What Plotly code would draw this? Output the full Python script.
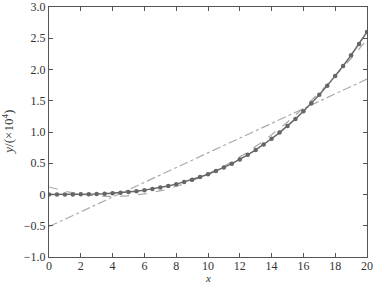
import numpy as np
import plotly.graph_objects as go

x_vals = [i * 0.5 for i in range(41)]
y_vals = [0.000, 0.000, 0.000, 0.001, 0.003, 0.005, 0.009, 0.014, 0.021, 0.030,
          0.041, 0.054, 0.070, 0.089, 0.112, 0.137, 0.166, 0.200, 0.237, 0.279,
          0.325, 0.376, 0.433, 0.494, 0.562, 0.635, 0.714, 0.800, 0.892, 0.991,
          1.097, 1.210, 1.331, 1.460, 1.597, 1.742, 1.895, 2.058, 2.229, 2.410,
          2.600]
x_ticks = [0, 2, 4, 6, 8, 10, 12, 14, 16, 18, 20]
y_ticks = [-1.0, -0.5, 0, 0.5, 1.0, 1.5, 2.0, 2.5, 3.0]
y_tick_text = ["\u22121.0", "\u22120.5", "0", "0.5", "1.0", "1.5", "2.0", "2.5", "3.0"]

xa = np.array(x_vals)
ya = np.array(y_vals)
p1 = np.polyfit(xa, ya, 1)
p2 = np.polyfit(xa, ya, 2)
xf = np.linspace(0, 20, 201)

FONT = "Liberation Serif"

fig = go.Figure()
fig.add_trace(go.Scatter(x=xf, y=np.polyval(p1, xf), mode="lines",
                         line=dict(color="#aaaaaa", width=1.2, dash="dashdot")))
fig.add_trace(go.Scatter(x=xf, y=np.polyval(p2, xf), mode="lines",
                         line=dict(color="#aaaaaa", width=1.2, dash="dash")))
fig.add_trace(go.Scatter(x=x_vals, y=y_vals, mode="lines+markers",
                         line=dict(color="#666666", width=1.5),
                         marker=dict(color="#666666", size=4.5)))

axis_common = dict(showgrid=False, zeroline=False, showline=True, linecolor="#555555",
                   linewidth=1, mirror="ticks", ticks="inside", ticklen=4, automargin=False,
                   ticklabeloverflow="allow",
                   tickcolor="#555555", tickfont=dict(family=FONT, size=12, color="#333333"))

fig.update_layout(
    width=373, height=285, margin=dict(l=49, r=6, t=7, b=28),
    paper_bgcolor="white", plot_bgcolor="white", showlegend=False,
    font=dict(family=FONT, color="#333333"),
    xaxis=dict(range=[0, 20], tickvals=x_ticks, ticktext=[str(v) for v in x_ticks],
               ticklabelstandoff=-2, **axis_common),
    yaxis=dict(range=[-1, 3], tickvals=y_ticks, ticktext=y_tick_text, **axis_common),
    annotations=[
        dict(text="<i>x</i>", xref="paper", yref="paper", x=0.5, y=-0.112, yanchor="bottom",
             xanchor="center", showarrow=False, borderpad=0,
             font=dict(family=FONT, size=11, color="#333333")),
        dict(text="<i>y</i>/(×10<sup>4</sup>)", xref="paper", yref="paper", x=-0.13, y=0.5,
             xanchor="center", yanchor="middle", textangle=-90, showarrow=False,
             font=dict(family=FONT, size=13, color="#333333")),
    ],
)
fig.write_html("out.html")
